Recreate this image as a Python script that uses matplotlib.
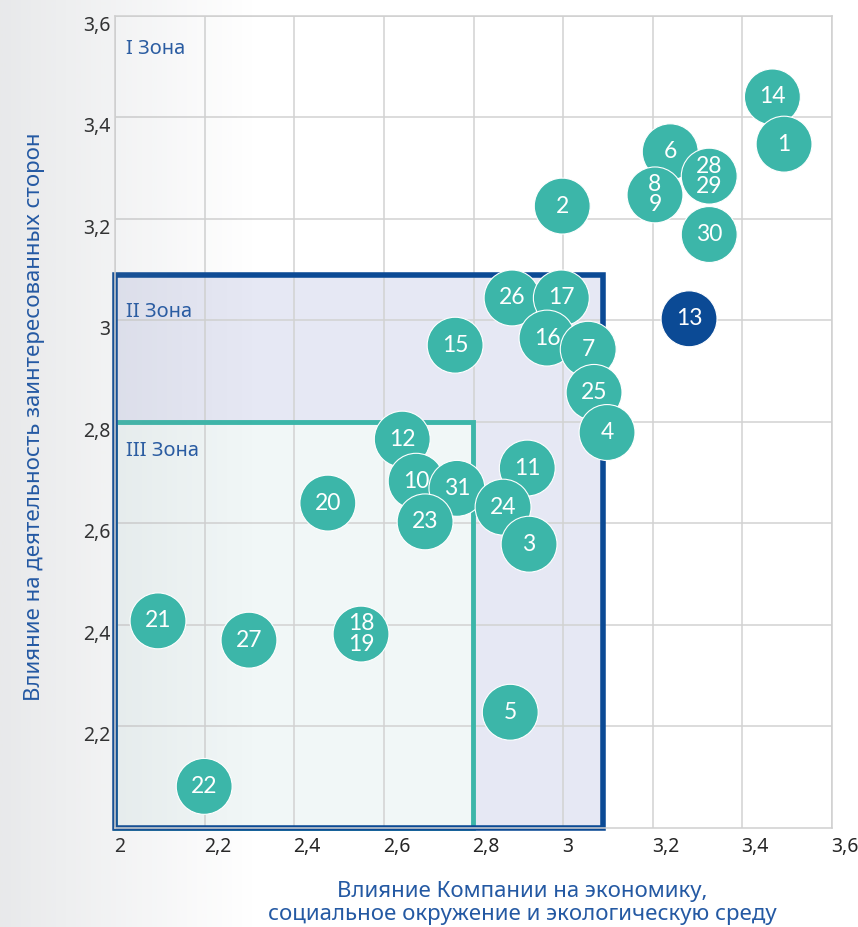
import numpy as np
import matplotlib
matplotlib.use("Agg")
import matplotlib.pyplot as plt
from matplotlib.patches import Rectangle
from matplotlib.transforms import ScaledTranslation

# ---- data ----
labels = ["14", "1", "6", "28\n29", "8\n9", "2", "30", "26", "17", "13", "16", "15", "7",
          "25", "4", "12", "11", "10", "31", "20", "24", "23", "3", "21", "27", "18\n19", "5", "22"]
x_vals = [3.467, 3.493, 3.239, 3.326, 3.205, 2.998, 3.326, 2.886, 2.996, 3.281, 2.964, 2.759, 3.056,
          3.069, 3.098, 2.641, 2.920, 2.672, 2.763, 2.475, 2.866, 2.692, 2.924, 2.096, 2.299, 2.549, 2.882, 2.199]
y_vals = [3.440, 3.347, 3.332, 3.284, 3.247, 3.225, 3.169, 3.044, 3.044, 3.003, 2.965, 2.951, 2.943,
          2.858, 2.779, 2.766, 2.709, 2.683, 2.669, 2.640, 2.632, 2.603, 2.559, 2.408, 2.370, 2.382, 2.228, 2.082]
highlight = ["13"]

x_ticks = [2.0, 2.2, 2.4, 2.6, 2.8, 3.0, 3.2, 3.4, 3.6]
y_ticks = [2.2, 2.4, 2.6, 2.8, 3.0, 3.2, 3.4, 3.6]
zone_names = ["I Зона", "II Зона", "III Зона"]
zone2_limit = 3.09
zone3_limit = 2.8

TEAL = "#3cb6a9"
DARK = "#0b4a95"
LBL = "#2459a3"

def fmt(v):
    s = ("%.1f" % v)
    if s.endswith(".0"):
        s = s[:-2]
    return s.replace(".", ",")

fig = plt.figure(figsize=(8.58, 9.27), dpi=100)
fig.patch.set_facecolor("white")
ax = fig.add_axes([115/858, 1 - 828/927, (832 - 115)/858, (828 - 15.7)/927])
ax.set_xlim(2.0, 3.6)
ax.set_ylim(2.0, 3.6)
ax.set_facecolor("white")
ax.set_axisbelow(True)

# zone fills
ax.add_patch(Rectangle((2.0, 2.0), zone2_limit - 2.0, zone2_limit - 2.0,
                       facecolor="#e6e8f4", edgecolor="none", zorder=0.2))
ax.add_patch(Rectangle((2.0, 2.0), zone3_limit - 2.0, zone3_limit - 2.0,
                       facecolor="#f1f7f7", edgecolor="none", zorder=0.3))
# grid
ax.set_xticks(x_ticks)
ax.set_yticks(y_ticks)
ax.grid(True, color="#d2d2d2", linewidth=1.1)
ax.tick_params(length=0, labelsize=14, labelcolor="#262626")
ax.set_xticklabels([fmt(v) for v in x_ticks], ha="left", fontfamily="Noto Sans")
ax.set_yticklabels([fmt(v) for v in y_ticks], va="top", fontfamily="Noto Sans")
for lbl in ax.get_xticklabels():
    lbl.set_transform(lbl.get_transform() + ScaledTranslation(-1/100, -4/100, fig.dpi_scale_trans))
for lbl in ax.get_yticklabels():
    lbl.set_transform(lbl.get_transform() + ScaledTranslation(0, 0, fig.dpi_scale_trans))
for s in ax.spines.values():
    s.set_color("#cfcfcf")
    s.set_linewidth(1.1)

# zone borders
ax.add_patch(Rectangle((2.0, 2.0), zone3_limit - 2.0, zone3_limit - 2.0,
                       facecolor="none", edgecolor=TEAL, linewidth=3.5, zorder=2, clip_on=False))
ax.add_patch(Rectangle((2.0, 2.0), zone2_limit - 2.0, zone2_limit - 2.0,
                       facecolor="none", edgecolor=DARK, linewidth=4, zorder=2.1, clip_on=False))

# zone labels
zkw = dict(color=LBL, fontsize=14.5, fontfamily="Noto Sans", va="center", zorder=2.2)
ax.text(2.025, 3.535, zone_names[0], **zkw)
ax.text(2.025, 3.017, zone_names[1], **zkw)
ax.text(2.025, 2.743, zone_names[2], **zkw)

# left gradient overlay
n = 256
grad = np.zeros((1, n, 4))
grad[..., 0] = 0.55
grad[..., 1] = 0.57
grad[..., 2] = 0.60
grad[0, :, 3] = np.linspace(0.2, 0.0, n)
ax.imshow(grad, extent=[0, 0.30, 0, 1], transform=fig.transFigure, aspect="auto",
          zorder=2.5, clip_on=False, interpolation="bilinear")
ax.set_xlim(2.0, 3.6)
ax.set_ylim(2.0, 3.6)

# bubbles
colors = [DARK if l in highlight else TEAL for l in labels]
ax.scatter(x_vals, y_vals, s=1620, c=colors, edgecolors="white", linewidths=0.8, zorder=3, clip_on=False)
for l, xv, yv in zip(labels, x_vals, y_vals):
    ax.text(xv, yv, l, color="white", fontsize=16.5, fontfamily="Lato", ha="center", va="center",
            linespacing=0.95, zorder=4)

# axis labels
fig.text(35/858, 1 - 417/927, "Влияние на деятельность заинтересованных сторон", rotation=90,
         color=LBL, fontsize=16, fontfamily="Noto Sans", ha="center", va="center")
fig.text(522/858, 1 - 903/927, "Влияние Компании на экономику,\nсоциальное окружение и экологическую среду",
         color=LBL, fontsize=16, fontfamily="Noto Sans", ha="center", va="center", linespacing=1.15)

fig.savefig("out.png", dpi=100)
